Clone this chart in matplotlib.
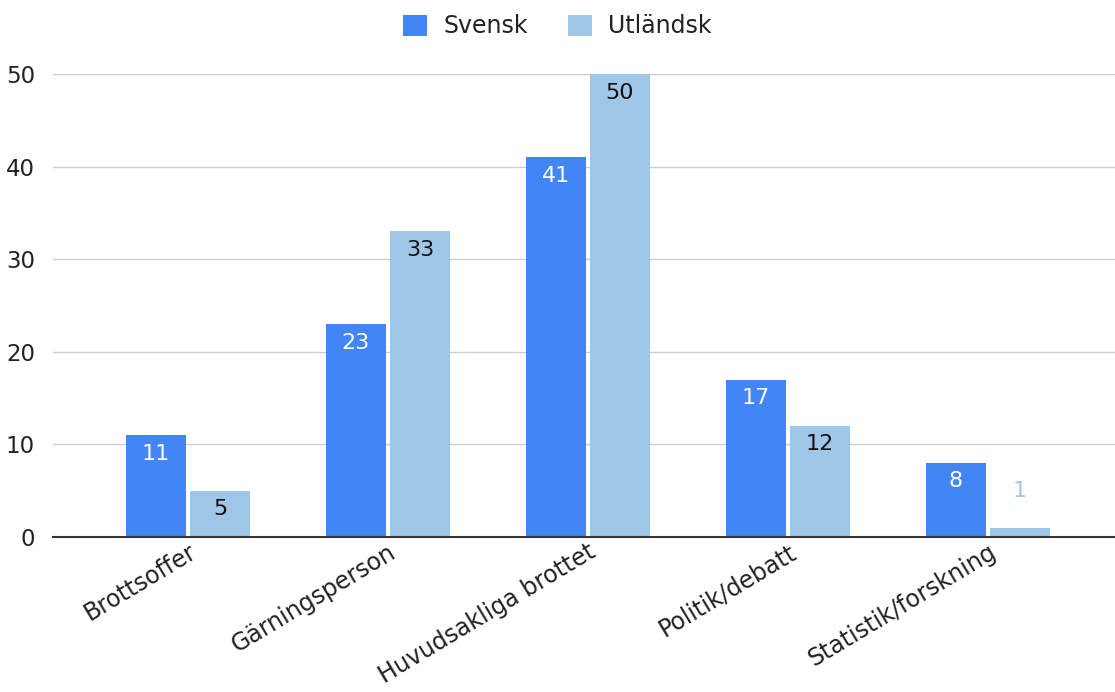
import numpy as np
import matplotlib.pyplot as plt

categories = ["Brottsoffer", "Gärningsperson", "Huvudsakliga brottet",
              "Politik/debatt", "Statistik/forskning"]
svensk = [11, 23, 41, 17, 8]
utlandsk = [5, 33, 50, 12, 1]

c_sv = "#4285f4"
c_ut = "#9fc5e8"

plt.rcParams['font.family'] = ['DejaVu Sans']
plt.rcParams['text.color'] = "#222222"

fig = plt.figure(figsize=(11.15, 6.92), dpi=100)
ax = fig.add_axes([0.0475, 0.224, 0.9525, 0.669])

x = np.arange(len(categories))
w = 0.3
off = 0.16
b1 = ax.bar(x - off, svensk, w, color=c_sv, label="Svensk", zorder=3)
b2 = ax.bar(x + off, utlandsk, w, color=c_ut, label="Utländsk", zorder=3)

# value labels inside bars (small bars get label above)
for bars, vals, col in [(b1, svensk, "white"), (b2, utlandsk, "#111111")]:
    for b, v in zip(bars, vals):
        cx = b.get_x() + b.get_width() / 2
        if v >= 3:
            ax.text(cx, v - 2.0, str(v), ha="center", va="center",
                    fontsize=16, color=col, zorder=4)
        else:
            ax.text(cx, v + 4.0, str(v), ha="center", va="center",
                    fontsize=16, color=c_ut, zorder=4)

ax.set_xlim(-0.675, 4.635)
ax.set_ylim(0, 50)
ax.set_yticks([0, 10, 20, 30, 40, 50])
ax.yaxis.grid(True, color="#cccccc", linewidth=1, zorder=0)
ax.set_axisbelow(True)
ax.tick_params(axis="y", length=0, labelsize=16.5, pad=13, labelcolor="#222222")
ax.tick_params(axis="x", length=0, labelsize=17, pad=2, labelcolor="#222222")
ax.set_xticks(x)
ax.set_xticklabels(categories, rotation=31, ha="right", rotation_mode="anchor")
for s in ["top", "right", "left"]:
    ax.spines[s].set_visible(False)
ax.spines["bottom"].set_color("#333333")
ax.spines["bottom"].set_linewidth(1.5)
ax.spines["bottom"].set_zorder(5)

fig.legend(loc="upper center", bbox_to_anchor=(0.5, 1.01), ncol=2,
           frameon=False, fontsize=17, handlelength=1.0, handleheight=1.0,
           columnspacing=1.7, handletextpad=0.7)

fig.savefig("out.png", dpi=100)
